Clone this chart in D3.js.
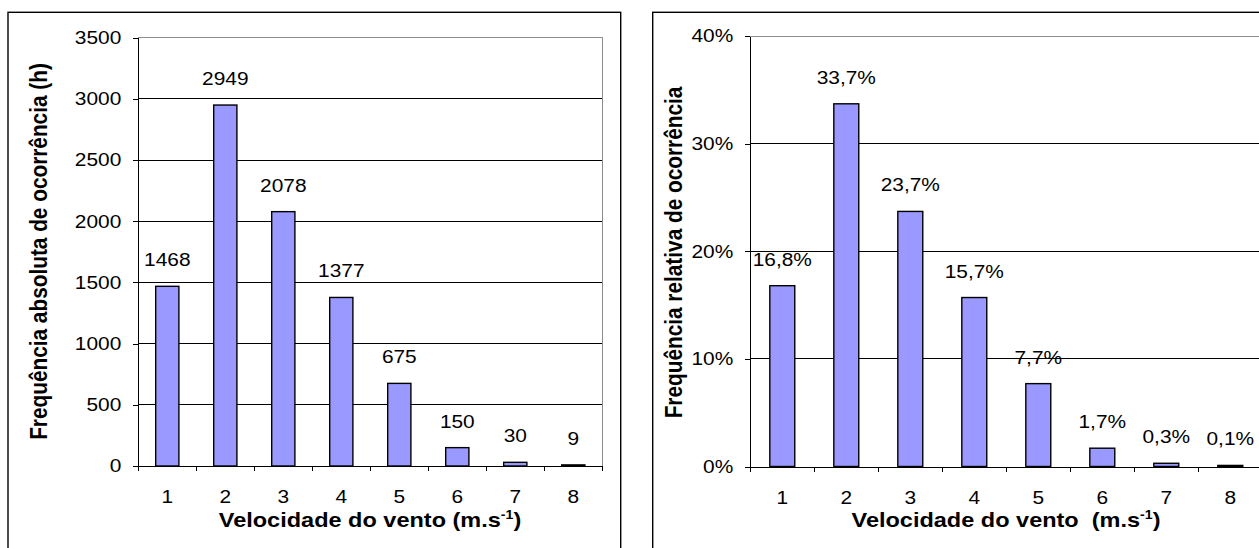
<!DOCTYPE html>
<html>
<head>
<meta charset="utf-8">
<script src="https://cdn.jsdelivr.net/npm/d3@7"></script>
<style>
  html, body { margin: 0; padding: 0; background: #fff; }
  svg { display: block; }
  text { font-family: "Liberation Sans", Arial, Helvetica, sans-serif; fill: #000; }
</style>
</head>
<body>
<svg id="chart" width="1259" height="548"></svg>
<script>
// Wind speed classes (m/s)
const categories = ["1", "2", "3", "4", "5", "6", "7", "8"];
// Hours of occurrence per class
const hoursValues = [1468, 2949, 2078, 1377, 675, 150, 30, 9];
// Relative frequency per class (%)
const percentValues = [16.8, 33.7, 23.7, 15.7, 7.7, 1.7, 0.3, 0.1];
// Axis tick values
const hoursTicks = [0, 500, 1000, 1500, 2000, 2500, 3000, 3500];
const percentTicks = [0, 10, 20, 30, 40];

const SX = 1.13;            // horizontal text stretch
const BAR_FILL = "#9999ff";
const svg = d3.select("#chart");

function drawPanel(o) {
  const g = svg.append("g");

  // outer frame of the panel
  g.append("rect")
    .attr("x", o.frame[0]).attr("y", o.frame[1])
    .attr("width", o.frame[2]).attr("height", o.frame[3])
    .attr("fill", "none").attr("stroke", "#000").attr("stroke-width", 1.4);

  const x = d3.scaleBand().domain(categories).range([o.left, o.right])
    .paddingInner(o.pad).paddingOuter(o.pad / 2);
  const xEdge = d3.scaleLinear().domain([0, categories.length]).range([o.left, o.right]);
  const y = d3.scaleLinear().domain([0, o.max]).range([o.bottom, o.top]);

  // horizontal gridlines
  g.append("g").selectAll("line")
    .data(o.ticks.filter(t => t > 0 && t < o.max))
    .join("line")
    .attr("x1", o.left).attr("x2", o.right)
    .attr("y1", d => y(d)).attr("y2", d => y(d))
    .attr("stroke", "#000").attr("stroke-width", 1)
    .attr("shape-rendering", "crispEdges");

  // plot area top and right border
  g.append("path")
    .attr("d", `M${o.left},${y(o.max)}H${o.right}V${o.bottom}`)
    .attr("fill", "none").attr("stroke", "#8c8c8c").attr("stroke-width", 1)
    .attr("shape-rendering", "crispEdges");

  // bars
  g.append("g").selectAll("rect")
    .data(o.values)
    .join("rect")
    .attr("x", (d, i) => x(categories[i]))
    .attr("y", d => y(d))
    .attr("width", x.bandwidth())
    .attr("height", d => o.bottom - y(d))
    .attr("fill", BAR_FILL)
    .attr("stroke", "#000").attr("stroke-width", 1.4);

  // y axis
  const ya = g.append("g")
    .attr("transform", `translate(${o.left},0)`)
    .call(d3.axisLeft(y).tickValues(o.ticks).tickSize(5).tickSizeOuter(0).tickFormat(o.tickFmt));
  ya.attr("font-size", null).attr("font-family", null);
  ya.selectAll("line, path").attr("stroke", "#000").attr("shape-rendering", "crispEdges");
  ya.selectAll("text")
    .attr("x", -17 / SX)
    .attr("transform", `scale(${SX},1)`)
    .attr("font-size", 18.5);

  // x axis: boundary ticks and axis line
  const xe = g.append("g")
    .attr("transform", `translate(0,${o.bottom})`)
    .call(d3.axisBottom(xEdge).tickValues(d3.range(0, categories.length + 1))
      .tickSize(5).tickSizeOuter(0).tickFormat(""));
  xe.selectAll("line, path").attr("stroke", "#000").attr("shape-rendering", "crispEdges");

  // x axis: category labels centred in each band
  const xa = g.append("g")
    .attr("transform", `translate(0,${o.bottom})`)
    .call(d3.axisBottom(x).tickSize(0).tickSizeOuter(0));
  xa.attr("font-size", null).attr("font-family", null);
  xa.select(".domain").remove();
  xa.selectAll("text")
    .attr("y", 0).attr("dy", null)
    .attr("transform", `translate(0,37) scale(${SX},1)`)
    .attr("font-size", 18.5);

  // value labels above bars
  g.append("g").selectAll("text")
    .data(o.values)
    .join("text")
    .attr("transform", (d, i) =>
      `translate(${x(categories[i]) + x.bandwidth() / 2},${y(d) - 20}) scale(${SX},1)`)
    .attr("text-anchor", "middle")
    .attr("font-size", 18.5)
    .text(o.labelFmt);

  // x axis title
  const xt = g.append("text")
    .attr("transform", `translate(${o.xTitleX},527) scale(${SX},1)`)
    .attr("text-anchor", "middle")
    .attr("font-size", 20.8).attr("font-weight", "bold")
    .style("white-space", "pre");
  xt.append("tspan").text(o.xTitle);
  xt.append("tspan").attr("dy", -8).attr("font-size", 12.5).text("-1");
  xt.append("tspan").attr("dy", 8).text(")");

  // y axis title
  g.append("text")
    .attr("transform", `translate(${o.yTitleX},${o.yTitleY}) scale(${SX},1) rotate(-90)`)
    .attr("text-anchor", "middle")
    .attr("font-size", 20.8).attr("font-weight", "bold")
    .text(o.yTitle);
}

drawPanel({
  frame: [8, 12.3, 612.7, 560],
  left: 138.3, right: 602.3, top: 37.6, bottom: 466,
  max: 3500, ticks: hoursTicks, values: hoursValues, pad: 0.6,
  tickFmt: d => String(d),
  labelFmt: d => String(d),
  xTitle: "Velocidade do vento (m.s", xTitleX: 370,
  yTitle: "Frequência absoluta de ocorrência (h)", yTitleX: 47, yTitleY: 251.5
});

drawPanel({
  frame: [652.7, 12.3, 700, 560],
  left: 750.3, right: 1262.3, top: 36, bottom: 466.5,
  max: 40, ticks: percentTicks, values: percentValues, pad: 0.61,
  tickFmt: d => d + "%",
  labelFmt: d => d.toFixed(1).replace(".", ",") + "%",
  xTitle: "Velocidade do vento  (m.s", xTitleX: 1006,
  yTitle: "Frequência relativa de ocorrência", yTitleX: 682, yTitleY: 252.5
});
</script>
</body>
</html>
